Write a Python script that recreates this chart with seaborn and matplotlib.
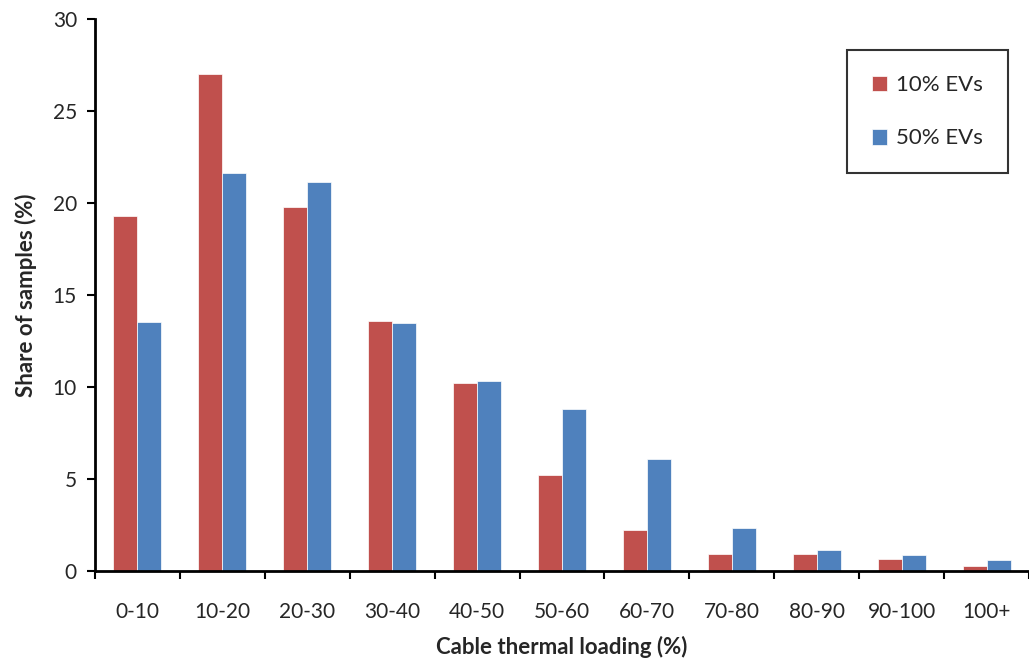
import matplotlib
matplotlib.use("Agg")
import matplotlib.pyplot as plt
import seaborn as sns
import pandas as pd
import numpy as np

categories = ["0-10", "10-20", "20-30", "30-40", "40-50", "50-60", "60-70", "70-80", "80-90", "90-100", "100+"]
ev10 = [19.3, 27.0, 19.8, 13.6, 10.2, 5.2, 2.25, 0.92, 0.9, 0.65, 0.25]
ev50 = [13.55, 21.65, 21.15, 13.5, 10.3, 8.8, 6.1, 2.35, 1.12, 0.85, 0.62]
series = ["10% EVs", "50% EVs"]
colors = ["#C0504D", "#4F81BD"]

df = pd.DataFrame({
    "cat": categories * 2,
    "val": ev10 + ev50,
    "series": [series[0]] * len(categories) + [series[1]] * len(categories),
})

sns.set_style("white")
plt.rcParams["font.family"] = ["Lato", "DejaVu Sans"]

fig = plt.figure(figsize=(10.29, 6.61), dpi=100)
ax = fig.add_axes([95 / 1029, (661 - 571) / 661, (1029 - 95) / 1029, (571 - 19) / 661])

sns.barplot(data=df, x="cat", y="val", hue="series", palette=colors, width=0.565,
            ax=ax, saturation=1, edgecolor="white", linewidth=0.5, gap=0)

ax.set_xlim(-0.5, len(categories) - 0.5)
ax.set_ylim(0, 30)
ax.set_yticks(np.arange(0, 31, 5))
ax.tick_params(axis="y", labelsize=15, length=6, width=1.5, direction="out", left=True, color="black", pad=7)
ax.tick_params(axis="x", which="major", labelsize=15, length=0, pad=22)
ax.set_xticks(np.arange(-0.5, len(categories) + 0.5, 1), minor=True)
ax.tick_params(axis="x", which="minor", length=6, width=1.5, direction="out", bottom=True, color="black")

for s in ["top", "right"]:
    ax.spines[s].set_visible(False)
for s in ["left", "bottom"]:
    ax.spines[s].set_linewidth(2)
    ax.spines[s].set_color("black")

ax.set_xlabel("Cable thermal loading (%)", fontsize=16, fontweight="bold", labelpad=10)
ax.set_ylabel("Share of samples (%)", fontsize=16, fontweight="bold", labelpad=11)

leg = ax.legend(loc="upper right", bbox_to_anchor=(0.977, 0.944), fontsize=15, frameon=True,
                fancybox=False, edgecolor="black", handlelength=0.75, handleheight=0.75,
                handletextpad=0.4, labelspacing=1.6, borderpad=1.2, borderaxespad=0)
leg.get_frame().set_linewidth(1.5)
for t in leg.get_texts():
    t.set_fontsize(16)

fig.savefig("out.png", dpi=100)
